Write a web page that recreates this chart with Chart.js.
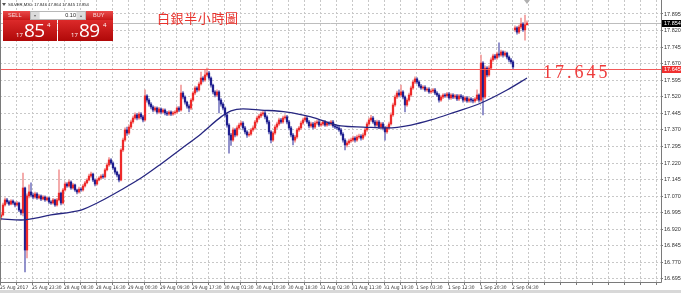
<!DOCTYPE html>
<html>
<head>
<meta charset="utf-8">
<script src="https://cdn.jsdelivr.net/npm/chart.js@4.4.1/dist/chart.umd.min.js"></script>
<style>
    html, body { margin: 0; padding: 0; background: #fff; }
    #wrap { position: relative; width: 681px; height: 293px; overflow: hidden; }
    #chart { position: absolute; left: 0; top: 0; }
    .hdr { position: absolute; left: 8px; top: 2px; font: 4.2px/5px "Liberation Sans", sans-serif; color: #222; white-space: nowrap; }
    .hdr-icon { position: absolute; left: 2px; top: 3px; width: 0; height: 0; border-left: 2px solid transparent; border-right: 2px solid transparent; border-top: 3px solid #555; }
    .title { position: absolute; left: 157px; top: 10px; font: 13px/15px "Noto Sans CJK TC", serif; color: #e8322c; letter-spacing: 0.6px; white-space: nowrap; }
    .btn { position: absolute; top: 11px; height: 9px; background: linear-gradient(#ea4a4a, #c81818); color: #f6dcdc; font: 5.5px/9px "Liberation Sans", sans-serif; }
    .lot { position: absolute; left: 30px; top: 11px; width: 56px; height: 9px; background: #e8e8e8; border: 1px solid #b8b8b8; box-sizing: border-box; }
    .lot .arr { position: absolute; top: 0; width: 8px; height: 7px; background: #dcdcdc; color: #666; font: 4px/7px sans-serif; text-align: center; }
    .lot .val { position: absolute; left: 9px; top: 0; width: 36px; height: 7px; background: #fff; color: #222; font: 5.5px/7px "Liberation Sans", sans-serif; text-align: right; }
    .price { position: absolute; top: 20px; height: 21px; background: linear-gradient(#dc2a2a, #b00808); color: #fff; font-family: "Open Sans", sans-serif; }
    .price .s { position: absolute; font-size: 6px; line-height: 6px; }
    .price .b { position: absolute; font-size: 19px; line-height: 19px; letter-spacing: -0.5px; }
    .strip { position: absolute; left: 0; top: 290px; width: 681px; height: 3px; background: #d8d8d8; }
</style>
</head>
<body>
<div id="wrap">
    <canvas id="chart" width="681" height="293"></canvas>
    <div class="hdr-icon"></div>
    <div class="hdr">SILVER,M30&nbsp; 17.846 17.864 17.845 17.854</div>

    <div class="btn" style="left:3px;width:27px;padding-left:5px;box-sizing:border-box;">SELL</div>
    <div class="btn" style="left:86px;width:27px;padding-left:7px;box-sizing:border-box;">BUY</div>
    <div class="lot">
        <div class="arr" style="left:0;">&#9662;</div>
        <div class="val">0.10</div>
        <div class="arr" style="left:46px;">&#9652;</div>
    </div>
    <div class="price" style="left:3px;width:54px;">
        <span class="s" style="left:13px;top:12px;">17</span>
        <span class="b" style="left:21px;top:1px;">85</span>
        <span class="s" style="left:44px;top:2px;">4</span>
    </div>
    <div class="price" style="left:58px;width:55px;">
        <span class="s" style="left:13px;top:12px;">17</span>
        <span class="b" style="left:21px;top:1px;">89</span>
        <span class="s" style="left:45px;top:2px;">4</span>
    </div>

    <div class="title">白銀半小時圖</div>
    <div class="strip"></div>
</div>
<script>
// SILVER M30 candles, bar index 0..263
const firstOpen = 16.975;
const gapBar = 257;
const gapOpen = 17.823;

const closes = [
    16.985, 17.030, 17.053, 17.044, 17.034, 17.048, 17.039, 17.030, 17.039, 17.007,
    16.994, 17.107, 16.826, 17.071, 17.089, 17.075, 17.066, 17.080, 17.062, 17.071,
    17.057, 17.066, 17.053, 17.062, 17.044, 17.039, 17.053, 17.030, 17.053, 17.084,
    17.039, 17.098, 17.125, 17.116, 17.134, 17.107, 17.121, 17.098, 17.089, 17.102,
    17.098, 17.116, 17.130, 17.143, 17.161, 17.170, 17.143, 17.125, 17.143, 17.152,
    17.161, 17.157, 17.189, 17.211, 17.234, 17.220, 17.198, 17.179, 17.166, 17.143,
    17.279, 17.324, 17.370, 17.356, 17.383, 17.406, 17.424, 17.438, 17.424, 17.442,
    17.429, 17.415, 17.524, 17.505, 17.487, 17.474, 17.460, 17.469, 17.451, 17.465,
    17.451, 17.460, 17.447, 17.442, 17.451, 17.442, 17.447, 17.451, 17.469, 17.460,
    17.537, 17.519, 17.496, 17.478, 17.469, 17.505, 17.537, 17.560, 17.551, 17.578,
    17.605, 17.596, 17.619, 17.628, 17.605, 17.573, 17.542, 17.528, 17.542, 17.505,
    17.487, 17.469, 17.438, 17.392, 17.347, 17.324, 17.370, 17.347, 17.379, 17.392,
    17.401, 17.379, 17.361, 17.347, 17.351, 17.370, 17.379, 17.406, 17.424, 17.433,
    17.442, 17.447, 17.429, 17.406, 17.361, 17.324, 17.356, 17.383, 17.397, 17.415,
    17.406, 17.424, 17.429, 17.406, 17.379, 17.347, 17.324, 17.338, 17.370, 17.379,
    17.401, 17.415, 17.424, 17.406, 17.388, 17.397, 17.383, 17.401, 17.406, 17.392,
    17.397, 17.406, 17.392, 17.401, 17.397, 17.406, 17.388, 17.383, 17.379, 17.370,
    17.351, 17.324, 17.302, 17.311, 17.320, 17.324, 17.333, 17.324, 17.338, 17.342,
    17.333, 17.347, 17.370, 17.397, 17.415, 17.424, 17.406, 17.392, 17.406, 17.383,
    17.397, 17.379, 17.361, 17.379, 17.397, 17.438, 17.483, 17.519, 17.537, 17.528,
    17.542, 17.519, 17.483, 17.505, 17.528, 17.560, 17.587, 17.601, 17.587, 17.569,
    17.560, 17.564, 17.551, 17.555, 17.542, 17.546, 17.551, 17.537, 17.528, 17.505,
    17.519, 17.528, 17.524, 17.533, 17.515, 17.528, 17.519, 17.524, 17.510, 17.524,
    17.519, 17.505, 17.515, 17.501, 17.510, 17.505, 17.501, 17.510, 17.528, 17.505,
    17.673, 17.519, 17.650, 17.619, 17.650, 17.687, 17.705, 17.696, 17.714, 17.709,
    17.723, 17.709, 17.718, 17.700, 17.687, 17.678, 17.655, 17.832, 17.813, 17.836,
    17.850, 17.823, 17.846, 17.854
];

const highs = [
    16.994, 17.039, 17.062, 17.060, 17.050, 17.055, 17.053, 17.044, 17.046, 17.043,
    17.012, 17.175, 17.111, 17.080, 17.121, 17.130, 17.084, 17.089, 17.086, 17.078,
    17.076, 17.073, 17.071, 17.068, 17.066, 17.050, 17.060, 17.057, 17.060, 17.189,
    17.089, 17.105, 17.134, 17.132, 17.143, 17.139, 17.128, 17.125, 17.102, 17.111,
    17.109, 17.123, 17.137, 17.150, 17.170, 17.179, 17.175, 17.148, 17.150, 17.159,
    17.168, 17.170, 17.196, 17.220, 17.245, 17.240, 17.225, 17.202, 17.184, 17.170,
    17.285, 17.333, 17.379, 17.383, 17.392, 17.415, 17.433, 17.447, 17.445, 17.451,
    17.449, 17.436, 17.551, 17.530, 17.512, 17.494, 17.480, 17.476, 17.474, 17.472,
    17.470, 17.467, 17.465, 17.454, 17.458, 17.456, 17.454, 17.458, 17.476, 17.476,
    17.573, 17.544, 17.524, 17.501, 17.485, 17.512, 17.544, 17.569, 17.566, 17.587,
    17.632, 17.612, 17.641, 17.650, 17.635, 17.610, 17.578, 17.548, 17.551, 17.548,
    17.512, 17.494, 17.474, 17.445, 17.399, 17.354, 17.379, 17.376, 17.388, 17.401,
    17.410, 17.408, 17.386, 17.367, 17.360, 17.377, 17.388, 17.413, 17.433, 17.442,
    17.451, 17.456, 17.454, 17.435, 17.413, 17.367, 17.363, 17.392, 17.406, 17.424,
    17.422, 17.433, 17.438, 17.436, 17.413, 17.386, 17.354, 17.345, 17.377, 17.386,
    17.410, 17.424, 17.436, 17.431, 17.413, 17.406, 17.404, 17.410, 17.415, 17.413,
    17.406, 17.413, 17.413, 17.408, 17.408, 17.413, 17.413, 17.395, 17.390, 17.386,
    17.377, 17.358, 17.331, 17.320, 17.329, 17.333, 17.342, 17.340, 17.347, 17.351,
    17.349, 17.356, 17.379, 17.406, 17.424, 17.436, 17.431, 17.413, 17.415, 17.413,
    17.404, 17.404, 17.386, 17.388, 17.406, 17.447, 17.492, 17.528, 17.546, 17.551,
    17.573, 17.548, 17.524, 17.512, 17.537, 17.569, 17.596, 17.610, 17.607, 17.594,
    17.576, 17.571, 17.571, 17.562, 17.562, 17.553, 17.558, 17.558, 17.544, 17.535,
    17.526, 17.535, 17.535, 17.540, 17.540, 17.535, 17.535, 17.531, 17.531, 17.531,
    17.531, 17.526, 17.522, 17.522, 17.517, 17.517, 17.512, 17.517, 17.551, 17.533,
    17.709, 17.680, 17.660, 17.657, 17.660, 17.696, 17.714, 17.712, 17.723, 17.764,
    17.732, 17.728, 17.727, 17.723, 17.705, 17.694, 17.684, 17.841, 17.838, 17.845,
    17.877, 17.856, 17.890, 17.864
];

const lows = [
    16.962, 16.980, 17.025, 17.037, 17.028, 17.030, 17.032, 17.021, 17.025, 17.000,
    16.985, 16.980, 16.727, 16.790, 17.062, 17.066, 17.057, 17.060, 17.055, 17.057,
    17.050, 17.053, 17.046, 17.048, 17.037, 17.032, 17.034, 17.023, 17.025, 17.048,
    17.030, 17.034, 17.093, 17.109, 17.111, 17.100, 17.102, 17.091, 17.080, 17.084,
    17.091, 17.093, 17.111, 17.125, 17.139, 17.155, 17.136, 17.116, 17.120, 17.139,
    17.148, 17.150, 17.152, 17.184, 17.205, 17.214, 17.191, 17.170, 17.157, 17.134,
    17.139, 17.272, 17.318, 17.345, 17.350, 17.376, 17.399, 17.417, 17.415, 17.417,
    17.420, 17.406, 17.410, 17.496, 17.478, 17.465, 17.451, 17.454, 17.442, 17.445,
    17.442, 17.445, 17.438, 17.435, 17.436, 17.435, 17.436, 17.440, 17.445, 17.453,
    17.455, 17.510, 17.487, 17.469, 17.451, 17.462, 17.499, 17.530, 17.542, 17.546,
    17.573, 17.587, 17.590, 17.612, 17.596, 17.564, 17.533, 17.519, 17.521, 17.447,
    17.478, 17.460, 17.429, 17.383, 17.265, 17.300, 17.318, 17.338, 17.342, 17.372,
    17.386, 17.370, 17.352, 17.336, 17.340, 17.345, 17.363, 17.372, 17.399, 17.417,
    17.426, 17.435, 17.420, 17.397, 17.352, 17.311, 17.318, 17.350, 17.376, 17.390,
    17.399, 17.399, 17.417, 17.397, 17.370, 17.338, 17.302, 17.315, 17.331, 17.363,
    17.372, 17.395, 17.408, 17.399, 17.379, 17.381, 17.374, 17.376, 17.395, 17.385,
    17.386, 17.390, 17.386, 17.386, 17.390, 17.390, 17.381, 17.376, 17.372, 17.363,
    17.345, 17.315, 17.279, 17.293, 17.304, 17.313, 17.318, 17.315, 17.318, 17.331,
    17.324, 17.326, 17.340, 17.363, 17.390, 17.408, 17.399, 17.383, 17.386, 17.376,
    17.376, 17.370, 17.324, 17.354, 17.372, 17.392, 17.431, 17.476, 17.512, 17.519,
    17.521, 17.510, 17.451, 17.476, 17.499, 17.521, 17.553, 17.580, 17.580, 17.562,
    17.553, 17.553, 17.544, 17.544, 17.535, 17.535, 17.539, 17.530, 17.521, 17.496,
    17.499, 17.512, 17.517, 17.517, 17.508, 17.508, 17.512, 17.512, 17.503, 17.503,
    17.512, 17.496, 17.499, 17.494, 17.494, 17.496, 17.492, 17.494, 17.503, 17.496,
    17.499, 17.438, 17.512, 17.610, 17.612, 17.644, 17.680, 17.689, 17.689, 17.700,
    17.703, 17.700, 17.703, 17.691, 17.678, 17.669, 17.646, 17.816, 17.804, 17.806,
    17.829, 17.816, 17.777, 17.845
];

// moving average, read at a handful of bars
const maBars = [0, 10, 15, 25, 35, 40, 50, 60, 70, 80, 90, 100, 110, 115, 121, 130, 143, 155, 170, 181, 193, 205, 215, 227, 240, 253, 263];
const maValues = [16.967, 16.962, 16.967, 16.985, 16.998, 17.007, 17.048, 17.098, 17.152, 17.216, 17.284, 17.352, 17.429, 17.456, 17.465, 17.460, 17.451, 17.429, 17.388, 17.383, 17.379, 17.392, 17.415, 17.451, 17.492, 17.551, 17.605];

const timeLabels = ['25 Aug 2017', '25 Aug 23:30', '28 Aug 08:30', '28 Aug 16:30', '29 Aug 00:30', '29 Aug 09:30', '29 Aug 17:30', '30 Aug 01:30', '30 Aug 10:30', '30 Aug 18:30', '31 Aug 02:30', '31 Aug 11:30', '31 Aug 19:30', '1 Sep 03:30', '1 Sep 12:30', '1 Sep 20:30', '2 Sep 04:30'];
const priceTicks = [16.695, 16.770, 16.845, 16.920, 16.995, 17.070, 17.145, 17.220, 17.295, 17.370, 17.445, 17.520, 17.595, 17.670, 17.745, 17.820, 17.895];

const bidPrice = 17.854;
const levelPrice = 17.645;
const levelLabelBar = 271;

const BAR_SPAN = 330;
const GRID_STEP = 8;

const opens = closes.map((c, i) => i === 0 ? firstOpen : (i === gapBar ? gapOpen : closes[i - 1]));
const isUp = i => closes[i] >= opens[i];

const bodies = closes.map((c, i) => ({ x: i, y: [opens[i], c] }));
const wicks = closes.map((c, i) => ({ x: i, y: [lows[i], highs[i]] }));
const maPoints = maBars.map((b, k) => ({ x: b, y: maValues[k] }));

const xTickValues = [];
for (let v = -0.5; v < BAR_SPAN; v += GRID_STEP) xTickValues.push(v);

const UP = '#ee2a2a';
const DOWN = '#1f1f8f';
const UP_WICK = '#f29a9a';
const DOWN_WICK = '#7d7dc2';
const AXIS_FONT = { family: '"Liberation Sans Narrow", "DejaVu Sans Condensed", "Liberation Sans", sans-serif', size: 4.9 };

const overlay = {
    id: 'overlay',
    beforeDatasetsDraw(chart) {
        const { ctx, chartArea: a, scales: { y } } = chart;
        const yb = Math.round(y.getPixelForValue(bidPrice)) + 0.5;
        ctx.save();
        ctx.strokeStyle = '#bdbdbd';
        ctx.lineWidth = 1;
        ctx.beginPath();
        ctx.moveTo(a.left, yb);
        ctx.lineTo(a.right, yb);
        ctx.stroke();
        ctx.restore();
    },
    afterDatasetsDraw(chart) {
        const { ctx, chartArea: a, scales: { x, y } } = chart;
        const yl = Math.round(y.getPixelForValue(levelPrice)) + 0.5;
        ctx.save();
        ctx.strokeStyle = '#f25a5a';
        ctx.lineWidth = 1;
        ctx.beginPath();
        ctx.moveTo(a.left, yl);
        ctx.lineTo(a.right, yl);
        ctx.stroke();

        ctx.fillStyle = '#ee3b3b';
        ctx.font = '18px "Liberation Serif", serif';
        ctx.letterSpacing = '3px';
        ctx.textBaseline = 'alphabetic';
        ctx.fillText(levelPrice.toFixed(3), x.getPixelForValue(levelLabelBar), yl + 8.5);
        ctx.restore();
    },
    afterDraw(chart) {
        const { ctx, chartArea: a, scales: { x, y } } = chart;
        ctx.save();
        // frame
        ctx.strokeStyle = '#7a7a7a';
        ctx.lineWidth = 1;
        ctx.beginPath();
        ctx.moveTo(a.left + 0.5, a.top);
        ctx.lineTo(a.left + 0.5, a.bottom + 0.5);
        ctx.lineTo(a.right + 0.5, a.bottom + 0.5);
        ctx.lineTo(a.right + 0.5, a.top);
        ctx.stroke();

        // price tags on the axis
        const tag = (price, bg) => {
            const py = Math.round(y.getPixelForValue(price));
            ctx.fillStyle = bg;
            ctx.fillRect(a.right + 1, py - 3, 20, 7);
            ctx.fillStyle = '#fff';
            ctx.font = '5.5px "Liberation Sans", sans-serif';
            ctx.textBaseline = 'middle';
            ctx.fillText(price.toFixed(3), a.right + 3, py + 0.5);
        };
        tag(bidPrice, '#000');
        tag(levelPrice, '#f03030');

        // chart shift marker
        const sx = x.getPixelForValue(closes.length - 1);
        ctx.fillStyle = '#b0b0b0';
        ctx.beginPath();
        ctx.moveTo(sx - 3, a.top);
        ctx.lineTo(sx + 3, a.top);
        ctx.lineTo(sx, a.top + 4);
        ctx.closePath();
        ctx.fill();
        ctx.restore();
    }
};

new Chart(document.getElementById('chart'), {
    data: {
        datasets: [
            {
                type: 'line',
                data: maPoints,
                borderColor: '#262680',
                borderWidth: 1.3,
                pointRadius: 0,
                cubicInterpolationMode: 'monotone',
                order: 0
            },
            {
                type: 'bar',
                data: bodies,
                grouped: false,
                barThickness: 1.6,
                backgroundColor: ctx => isUp(ctx.dataIndex) ? UP : DOWN,
                order: 1
            },
            {
                type: 'bar',
                data: wicks,
                grouped: false,
                barThickness: 1,
                backgroundColor: ctx => isUp(ctx.dataIndex) ? UP_WICK : DOWN_WICK,
                order: 2
            }
        ]
    },
    options: {
        responsive: false,
        animation: false,
        events: [],
        layout: { padding: 0 },
        plugins: { legend: { display: false }, tooltip: { enabled: false } },
        scales: {
            x: {
                type: 'linear',
                position: 'bottom',
                offset: false,
                min: -0.5,
                max: BAR_SPAN,
                afterBuildTicks: s => { s.ticks = xTickValues.map(v => ({ value: v })); },
                afterFit: s => { s.height = 11; s.paddingLeft = 0; s.paddingRight = 0; },
                grid: { offset: false, color: '#c8c8c8', drawTicks: true, tickLength: 3, tickColor: '#7a7a7a', tickBorderDash: [] },
                border: { display: false, dash: [2, 2] },
                ticks: {
                    autoSkip: false,
                    maxRotation: 0,
                    align: 'start',
                    padding: 0,
                    color: '#333',
                    font: AXIS_FONT,
                    callback: (v, i) => (i % 2 === 0 && timeLabels[i / 2]) ? timeLabels[i / 2] : ''
                }
            },
            y: {
                type: 'linear',
                position: 'right',
                min: 16.6812,
                max: 17.9584,
                afterBuildTicks: s => { s.ticks = priceTicks.map(v => ({ value: v })); },
                afterFit: s => { s.width = 20; s.paddingTop = 0; s.paddingBottom = 0; },
                grid: { color: '#c8c8c8', drawTicks: true, tickLength: 2, tickColor: '#7a7a7a', tickBorderDash: [] },
                border: { display: false, dash: [2, 2] },
                ticks: {
                    padding: 1,
                    color: '#333',
                    font: { family: 'Liberation Sans', size: 5.5 },
                    callback: v => v.toFixed(3)
                }
            }
        }
    },
    plugins: [overlay]
});
</script>
</body>
</html>
